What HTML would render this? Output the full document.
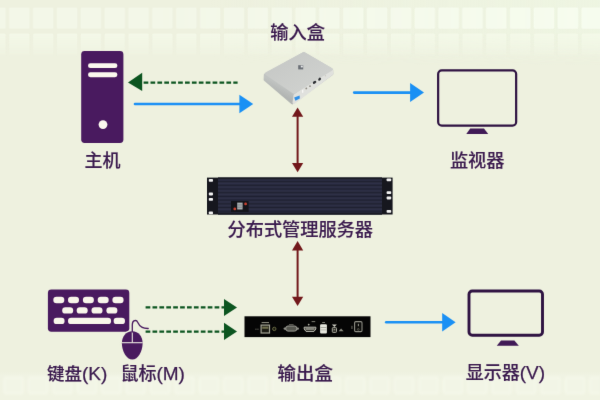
<!DOCTYPE html>
<html lang="zh-CN">
<head>
<meta charset="utf-8">
<title>分布式管理服务器</title>
<style>
html,body{margin:0;padding:0;width:600px;height:400px;overflow:hidden;background:#eef0df;}
svg{display:block;position:absolute;left:0;top:0;}
text{font-family:"Liberation Sans","Noto Sans CJK SC",sans-serif;font-size:18px;font-weight:500;fill:#3a1a4e;stroke:#3a1a4e;stroke-width:0.15px;stroke-linejoin:round;}
tspan.l{font-weight:400;font-size:19px;stroke-width:0.25px;}
</style>
</head>
<body>
<svg width="600" height="400" viewBox="0 0 600 400">
<defs>
  <filter id="soft1" filterUnits="userSpaceOnUse" x="0" y="368" width="600" height="32"><feGaussianBlur stdDeviation="1.1"/></filter>
  <filter id="soft" filterUnits="userSpaceOnUse" x="0" y="0" width="600" height="400" color-interpolation-filters="sRGB"><feConvolveMatrix order="3" kernelMatrix="0 1 0 1 12 1 0 1 0" divisor="16" edgeMode="duplicate" preserveAlpha="false"/></filter>
  <linearGradient id="bgh" x1="0" y1="0" x2="1" y2="0">
    <stop offset="0.35" stop-color="#eef8e4" stop-opacity="0"/>
    <stop offset="1" stop-color="#eef8e4" stop-opacity="0.55"/>
  </linearGradient>
  <linearGradient id="fadeTop" x1="0" y1="0" x2="0" y2="1">
    <stop offset="0" stop-color="#fff" stop-opacity="0.8"/>
    <stop offset="0.85" stop-color="#fff" stop-opacity="0.25"/>
    <stop offset="1" stop-color="#fff" stop-opacity="0"/>
  </linearGradient>
  <pattern id="film" x="7.4" y="7.6" width="23.85" height="21" patternUnits="userSpaceOnUse">
    <rect x="1.8" y="0" width="20.3" height="21" rx="1.2" fill="#f3f7e8"/>
  </pattern>
  <pattern id="filmB" x="7.4" y="7.6" width="23.85" height="21" patternUnits="userSpaceOnUse">
    <rect x="1.8" y="0" width="20.3" height="21" rx="1.2" fill="#f6fcee"/>
  </pattern>
  <linearGradient id="hgrad" x1="0" y1="0" x2="1" y2="0">
    <stop offset="0.25" stop-color="#fff" stop-opacity="0"/>
    <stop offset="1" stop-color="#fff" stop-opacity="1"/>
  </linearGradient>
  <mask id="mh"><rect x="0" y="0" width="600" height="66" fill="url(#hgrad)"/></mask>
  <pattern id="film2" x="7.4" y="33" width="23.85" height="24" patternUnits="userSpaceOnUse">
    <rect x="1.8" y="0.5" width="20.3" height="23.5" rx="1.2" fill="#f5faea"/>
  </pattern>
  <pattern id="film3" x="1.9" y="375.5" width="24.4" height="20" patternUnits="userSpaceOnUse">
    <rect x="2.5" y="2" width="18.5" height="16" rx="2" fill="#f2f5e6" stroke="#f5f8ea" stroke-width="1.8"/>
  </pattern>
  <linearGradient id="botband" x1="0" y1="0" x2="0" y2="1">
    <stop offset="0" stop-color="#f0f3e3" stop-opacity="0"/>
    <stop offset="0.15" stop-color="#f0f3e3" stop-opacity="1"/>
    <stop offset="1" stop-color="#f0f3e2" stop-opacity="1"/>
  </linearGradient>
  <linearGradient id="fadeTop2" x1="0" y1="0" x2="0" y2="1">
    <stop offset="0.5" stop-color="#fff" stop-opacity="1"/>
    <stop offset="1" stop-color="#fff" stop-opacity="0"/>
  </linearGradient>
  <mask id="m3"><rect x="0" y="0" width="600" height="66" fill="url(#fadeTop2)"/></mask>
  <mask id="m2"><rect x="0" y="33" width="600" height="24" fill="url(#fadeTop)"/></mask>
  <pattern id="stripes" x="0" y="177.5" width="8" height="3.7" patternUnits="userSpaceOnUse">
    <rect x="0" y="0" width="8" height="3.7" fill="#1e2030"/>
    <rect x="0" y="1.2" width="8" height="2.1" fill="#2e3047"/>
  </pattern>
  <linearGradient id="boxSide" gradientUnits="userSpaceOnUse" x1="279" y1="84" x2="275" y2="92">
    <stop offset="0" stop-color="#c0c3c1"/>
    <stop offset="1" stop-color="#b1b4b2"/>
  </linearGradient>
  <linearGradient id="boxTop" x1="0" y1="0" x2="1" y2="1">
    <stop offset="0" stop-color="#c4c6c4"/>
    <stop offset="1" stop-color="#d2d4d1"/>
  </linearGradient>
</defs>

<!-- background -->
<rect width="600" height="400" fill="#eef1df"/>
<g mask="url(#m3)"><rect x="0" y="0" width="600" height="66" fill="url(#bgh)"/></g>

<rect x="0" y="7.6" width="600" height="21" fill="url(#film)"/>
<g mask="url(#mh)"><rect x="0" y="7.6" width="600" height="21" fill="url(#filmB)"/></g>
<g mask="url(#m2)"><rect x="0" y="33" width="600" height="24" fill="url(#film2)"/></g>
<rect x="0" y="371" width="600" height="29" fill="url(#botband)"/>
<rect x="0" y="375" width="600" height="20" fill="url(#film3)" filter="url(#soft1)"/>

<g filter="url(#soft)">
<!-- host tower -->
<rect x="81.2" y="51.1" width="42.2" height="91.8" rx="3.4" fill="#491a5f"/>
<rect x="88" y="63.3" width="29.4" height="4.8" rx="2.4" fill="#fbf9ee"/>
<rect x="88" y="72.3" width="29.4" height="4.9" rx="2.4" fill="#fbf9ee"/>
<circle cx="103" cy="124.6" r="4.4" fill="#fbf9ee"/>
<text x="102.4" y="166.7" text-anchor="middle" style="font-size:18px">主机</text>

<!-- green arrow to host -->
<line x1="143.6" y1="82.7" x2="237.6" y2="82.7" stroke="#0c5520" stroke-width="2.2" stroke-dasharray="4.7 2.2"/>
<polygon points="128,82.4 142.2,72.8 142.2,91" fill="#0c5520"/>
<!-- blue arrow host -> input -->
<line x1="135" y1="104" x2="241" y2="104" stroke="#1a90f4" stroke-width="2.6" stroke-linecap="round"/>
<polygon points="239.4,94.8 253.2,104 239.4,113.2" fill="#1a90f4"/>

<!-- input box -->
<text x="297.6" y="38.5" text-anchor="middle" style="font-size:18.2px">输入盒</text>
<g stroke-linejoin="round">
  <!-- silhouette / left side -->
  <polygon points="265.4,75 303.8,53.6 331.6,70 331.8,73.8 292.4,102.8 265.2,79.6" fill="url(#boxSide)" stroke="url(#boxSide)" stroke-width="3.2"/>
  <!-- front face -->
  <polygon points="295,95.4 331.6,70.6 331.8,73.6 294,102.6" fill="#e0e1dd" stroke="#e0e1dd" stroke-width="3"/>
  <!-- top face -->
  <polygon points="266.6,73.6 303.8,53.6 331,69.4 294,92.2" fill="url(#boxTop)" stroke="url(#boxTop)" stroke-width="3.2"/>
  <!-- logo -->
  <rect x="298.2" y="65.2" width="5" height="4.2" fill="#6a6f76"/>
  <rect x="300.8" y="65.6" width="2" height="1.8" fill="#e8e9ea"/>
  <!-- ports -->
  <ellipse cx="314.6" cy="82.3" rx="1.9" ry="1.3" fill="#2e3034" transform="rotate(-35 314.6 82.3)"/>
  <ellipse cx="319.6" cy="79.2" rx="1.7" ry="1.2" fill="#2e3034" transform="rotate(-50 319.6 79.2)"/>
  <circle cx="306.3" cy="88.4" r="0.9" fill="#8f8c84"/>
  <circle cx="310" cy="86.2" r="0.9" fill="#8f8c84"/>
  <polygon points="302,90.2 303.2,89.6 303.4,92.4 302.2,93" fill="#fafaf8"/>
  <circle cx="325.4" cy="75.8" r="0.7" fill="#c9c8c2"/>
  <polygon points="294.2,97.4 299.6,95.6 299.8,98.6 295.4,100.8" fill="#2f8fe6"/>
</g>
<!-- blue arrow input -> monitor -->
<line x1="354.2" y1="92.6" x2="412" y2="92.6" stroke="#1a90f4" stroke-width="2.6" stroke-linecap="round"/>
<polygon points="410.1,83.1 424,92.6 410.1,102.1" fill="#1a90f4"/>

<!-- monitor -->
<rect x="438.15" y="70.4" width="78" height="55.2" rx="3.6" fill="none" stroke="#2f1342" stroke-width="2.2"/>
<polygon points="470.2,128.5 484,128.5 488.2,134 466.3,134" fill="#401a56"/>
<text x="477.2" y="166.7" text-anchor="middle" style="font-size:18.2px">监视器</text>

<!-- red arrow 1 -->
<line x1="297.6" y1="115" x2="297.6" y2="165" stroke="#72181b" stroke-width="2"/>
<polygon points="297.6,107.6 292,116.8 303.2,116.8" fill="#72181b"/>
<polygon points="297.6,172.2 292,163 303.2,163" fill="#72181b"/>

<!-- server -->
<rect x="207" y="177.6" width="185.6" height="36.9" fill="#16171e"/>
<rect x="218" y="177.6" width="164" height="36.9" fill="url(#stripes)"/>
<rect x="218" y="177.6" width="164" height="1.6" fill="#191a24"/>
<rect x="218" y="212.6" width="164" height="1.9" fill="#191a24"/>
<g fill="#f2f2f2">
  <rect x="208.8" y="179" width="4.2" height="2.8" rx="0.8"/>
  <rect x="208.8" y="192.6" width="4.2" height="2.8" rx="0.8"/>
  <rect x="208.8" y="198" width="4.2" height="2.8" rx="0.8"/>
  <rect x="208.8" y="211.5" width="4.2" height="2.8" rx="0.8"/>
  <rect x="386.6" y="178.4" width="4.6" height="2.8" rx="0.8"/>
  <rect x="386.6" y="191.2" width="4.6" height="2.8" rx="0.8"/>
  <rect x="386.6" y="196.6" width="4.6" height="2.8" rx="0.8"/>
  <rect x="386.6" y="210" width="4.6" height="2.8" rx="0.8"/>
</g>
<rect x="231" y="201" width="17.6" height="11" fill="#14151b"/>
<rect x="237.2" y="202.6" width="5.4" height="6.9" fill="#a9afb2"/>
<rect x="237.2" y="204.6" width="5.4" height="0.7" fill="#6f7478"/>
<rect x="237.2" y="206.8" width="5.4" height="0.7" fill="#6f7478"/>
<circle cx="245.6" cy="203.9" r="1.4" fill="#c8402f"/>
<circle cx="234.8" cy="208.9" r="1.4" fill="#c8402f"/>
<text x="300.3" y="236.4" text-anchor="middle" style="font-size:18.2px">分布式管理服务器</text>

<!-- red arrow 2 -->
<line x1="297.6" y1="249" x2="297.6" y2="298" stroke="#72181b" stroke-width="2"/>
<polygon points="297.6,241 292,250.6 303.2,250.6" fill="#72181b"/>
<polygon points="297.6,305.9 292,296.7 303.2,296.7" fill="#72181b"/>

<!-- keyboard -->
<rect x="47.9" y="289.6" width="81.4" height="42.1" rx="3.4" fill="#491a5f"/>
<g fill="#f8f6ea" transform="translate(-0.1,0.2)">
  <rect x="53.4" y="296.6" width="11" height="6.4" rx="3.2"/>
  <rect x="68.1" y="296.6" width="11" height="6.4" rx="3.2"/>
  <rect x="83" y="296.6" width="11" height="6.4" rx="3.2"/>
  <rect x="97.8" y="296.6" width="11" height="6.4" rx="3.2"/>
  <rect x="112.5" y="296.6" width="11.2" height="6.4" rx="3.2"/>
  <rect x="62.3" y="307" width="11" height="6.4" rx="3.2"/>
  <rect x="76.8" y="307" width="11" height="6.4" rx="3.2"/>
  <rect x="91.6" y="307" width="11" height="6.4" rx="3.2"/>
  <rect x="106.5" y="307" width="11" height="6.4" rx="3.2"/>
  <rect x="53.7" y="317.5" width="11" height="6.4" rx="3.2"/>
  <rect x="68.1" y="317.5" width="43.1" height="6.4" rx="3.2"/>
  <rect x="113.7" y="317.5" width="11.4" height="6.4" rx="3.2"/>
</g>
<text x="77.2" y="380" text-anchor="middle" style="font-size:17.5px">键盘<tspan class="l">(K)</tspan></text>

<!-- mouse -->
<path d="M132.3,331.3 C138.6,331.3 142.6,336.6 142.6,343.2 C142.6,351.6 138,359.5 132.3,359.5 C126.6,359.5 121.9,351.6 121.9,343.2 C121.9,336.6 126,331.3 132.3,331.3 Z" fill="#491a5f" stroke="#eef1df" stroke-width="2.4" paint-order="stroke"/>
<line x1="122" y1="342.7" x2="142.6" y2="342.7" stroke="#e9e6e0" stroke-width="1.1"/>
<line x1="132.3" y1="331.6" x2="132.3" y2="342.7" stroke="#e9e6e0" stroke-width="1.1"/>
<path d="M132.3,332 L132.3,324.8 C132.3,320 136.4,319.4 137.8,322.4 C139.6,326.4 142,328.6 148.2,328.5" fill="none" stroke="#491a5f" stroke-width="1.3" stroke-linecap="round"/>
<text x="152.7" y="380" text-anchor="middle">鼠标<tspan class="l">(M)</tspan></text>

<!-- green arrows -->
<line x1="145.6" y1="307.4" x2="226" y2="307.4" stroke="#0c5520" stroke-width="2.2" stroke-dasharray="4.7 2.2"/>
<polygon points="224,299 237,307.4 224,316" fill="#0c5520"/>
<line x1="145.6" y1="331.6" x2="226" y2="331.6" stroke="#0c5520" stroke-width="2.2" stroke-dasharray="4.7 2.2"/>
<polygon points="224,322.8 237,331.6 224,340" fill="#0c5520"/>

<!-- output box -->
<rect x="244.5" y="316.3" width="126" height="20.8" fill="#050505"/>
<g>
  <!-- ethernet -->
  <rect x="261.1" y="325.1" width="8.4" height="7.9" fill="#1c1c14" stroke="#a3a394" stroke-width="1.2"/>
  <rect x="262.2" y="326.6" width="6.2" height="2.2" fill="#6d6d4c"/>
  <rect x="261.6" y="322" width="7.4" height="1.1" fill="#86867a"/>
  <rect x="255.4" y="328.7" width="1.1" height="1" fill="#77776c"/>
  <rect x="257.4" y="328.7" width="1.1" height="1" fill="#77776c"/>
  <circle cx="274.3" cy="328.9" r="1.7" fill="#1a1a10" stroke="#6f7048" stroke-width="0.9"/>
  <!-- vga -->
  <rect x="283.6" y="327.4" width="15.4" height="2.4" rx="1.2" fill="#8f8f88"/>
  <rect x="285.8" y="326" width="11" height="5.1" rx="2.2" fill="#55564f" stroke="#9a9a92" stroke-width="1"/>
  <rect x="289" y="324.2" width="4.6" height="0.8" fill="#6c6c62"/>
  <!-- hdmi -->
  <path d="M304.2,327.2 H315.8 V329 L314,331.4 H306 L304.2,329 Z" fill="#26261f" stroke="#c2c2b8" stroke-width="1"/>
  <rect x="305.4" y="328.4" width="9.2" height="1.2" fill="#c2c2b8"/>
  <circle cx="308.7" cy="324.6" r="0.9" fill="#b0b0a4"/>
  <rect x="311.6" y="321.2" width="3.6" height="0.9" fill="#8a8a7e"/>
  <!-- usb -->
  <rect x="320.1" y="324.2" width="6.8" height="9.2" rx="1" fill="#e6e7de"/>
  <rect x="320.6" y="327.3" width="5.8" height="0.7" fill="#8d8e84"/>
  <rect x="320.6" y="329.6" width="5.8" height="0.7" fill="#a5a69c"/>
  <rect x="322.2" y="322" width="2.8" height="0.9" fill="#8a8a7e"/>
  <!-- small -->
  <polygon points="331.9,324.4 336.9,324.4 334.4,327" fill="#c9c9be"/>
  <rect x="332.3" y="327.6" width="4.2" height="4.8" rx="0.8" fill="#2a2a24" stroke="#a9a99e" stroke-width="1"/>
  <rect x="333.6" y="329" width="1.6" height="1.4" fill="#8a8a7e"/>
  <polygon points="338.6,331.2 343.6,331.2 341.1,328.6" fill="#8a8a7e"/>
  <!-- power -->
  <rect x="354.6" y="321.6" width="7.4" height="10" rx="1.2" fill="#0d0d0b" stroke="#8e8e84" stroke-width="1.1"/>
  <rect x="357.9" y="323.8" width="0.9" height="2.4" fill="#a9a99e"/>
  <circle cx="358.3" cy="329.4" r="0.9" fill="none" stroke="#77776c" stroke-width="0.6"/>
  <rect x="351.5" y="325.8" width="0.9" height="3.2" fill="#77776c"/>
</g>
<text x="305.2" y="379.7" text-anchor="middle" style="font-size:18.4px">输出盒</text>

<!-- blue arrow output -> display -->
<line x1="386.2" y1="322.2" x2="444" y2="322.2" stroke="#1a90f4" stroke-width="2.6" stroke-linecap="round"/>
<polygon points="442.2,313 455.6,322.2 442.2,331.5" fill="#1a90f4"/>

<!-- display -->
<rect x="469" y="291" width="73.5" height="44.2" rx="3.2" fill="none" stroke="#2f1342" stroke-width="2.9"/>
<polygon points="501,340.5 514.4,340.5 518.8,345.7 496.8,345.7" fill="#401a56"/>
<text x="505.4" y="378.8" text-anchor="middle">显示器<tspan class="l">(V)</tspan></text>
</g>
</svg>
</body>
</html>
